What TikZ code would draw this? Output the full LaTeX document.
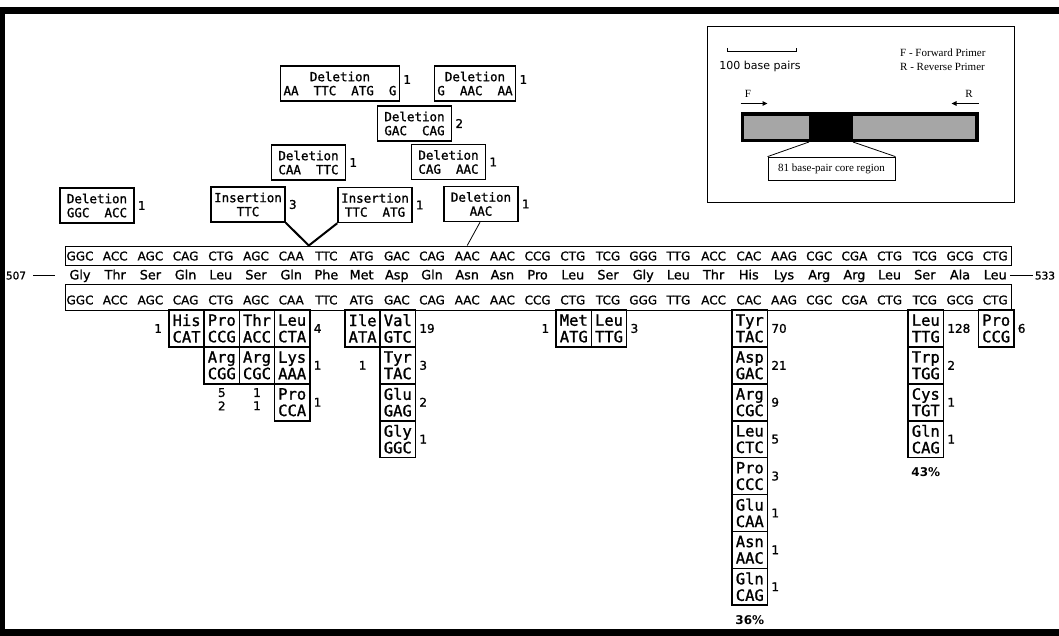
\documentclass[tikz,border=0pt]{standalone}
\usepackage{fontspec}
\setmainfont{DejaVu Sans}
\newfontfamily\seqfam[FakeBold=1.2]{DejaVu Sans}
\newfontfamily\monofam[FakeBold=1.2]{DejaVu Sans Mono}
\newfontfamily\insetserif{Liberation Serif}
\usetikzlibrary{positioning,arrows.meta,calc}

\begin{document}
\begin{tikzpicture}[
  x=1pt, y=-1pt,
  font=\seqfam\fontsize{12}{13}\selectfont,
  codon/.style={inner sep=0pt, text height=8.8pt, text depth=0pt},
  amino/.style={codon, font=\seqfam\fontsize{12.8}{14}\selectfont},
  seqbox/.style={draw=black, line width=0.9pt, inner sep=0pt, minimum width=946},
  mut/.style={draw=black, line width=1.6pt, minimum width=35.2, minimum height=36.9,
              inner sep=0pt, align=center, font=\monofam\fontsize{15.5}{16.5}\selectfont},
  indel/.style={draw=black, line width=1.5pt, inner xsep=3pt, inner ysep=2pt,
              minimum width=74, minimum height=35, align=center,
              font=\monofam\fontsize{12.5}{14}\selectfont},
  cnt/.style={inner sep=1pt, font=\seqfam\fontsize{12}{13}\selectfont},
  pct/.style={inner sep=1pt, font=\bfseries\fontsize{12}{13}\selectfont},
  legend/.style={inner sep=0pt, font=\insetserif\fontsize{11}{12}\selectfont},
  primer/.style={-{Triangle[length=5pt, width=4.5pt]}, line width=1.1pt}
]
\useasboundingbox (0,0) rectangle (1059,636);

% ---- frame ----
\fill[black] (0,7) rectangle (1059,14);
\fill[black] (0,7) rectangle (5,636);
\fill[black] (0,629) rectangle (1059,636);

% ---- sequence rows ----
\node[seqbox, minimum height=19] (topbox) at (538,255.5) {};
\node[seqbox, minimum height=26] (botbox) at (538,297) {};
\foreach \cod [count=\i from 0] in {GGC,ACC,AGC,CAG,CTG,AGC,CAA,TTC,ATG,GAC,CAG,AAC,AAC,
    CCG,CTG,TCG,GGG,TTG,ACC,CAC,AAG,CGC,CGA,CTG,TCG,GCG,CTG}{
  \node[codon] (ct\i) at ({80+35.2*\i},256) {\cod};
  \node[codon] (cb\i) at ({80+35.2*\i},300) {\cod};
}
\foreach \aa [count=\i from 0] in {Gly,Thr,Ser,Gln,Leu,Ser,Gln,Phe,Met,Asp,Gln,Asn,Asn,
    Pro,Leu,Ser,Gly,Leu,Thr,His,Lys,Arg,Arg,Leu,Ser,Ala,Leu}{
  \node[amino] (aa\i) at ({80+35.2*\i},275) {\aa};
}
\node[codon, font=\seqfam\fontsize{10.5}{12}\selectfont] (n507) at (16,275) {507};
\node[codon, font=\seqfam\fontsize{10.5}{12}\selectfont] (n533) at (1045,275) {533};
\draw[line width=0.9pt, shorten <=7pt, shorten >=14pt] (n507.east) -- (aa0.west);
\draw[line width=0.9pt, shorten <=3pt, shorten >=2pt] (aa26.east) -- (n533.west);

% ---- insertions and deletions ----
\node[indel] (delA) at (97,205.5)  {Deletion\\GGC\ \ ACC};
\node[indel] (insA) at (248,204.5) {Insertion\\TTC};
\node[indel] (insB) at (375,205)   {Insertion\\TTC\ \ ATG};
\node[indel] (delB) at (481,204)   {Deletion\\AAC};
\node[indel] (delC) at (308.5,162.5) {Deletion\\CAA\ \ TTC};
\node[indel] (delD) at (448.5,162) {Deletion\\CAG\ \ AAC};
\node[indel] (delE) at (414.5,123.5) {Deletion\\GAC\ \ CAG};
\node[indel] (delF) at (340,83.5)  {Deletion\\AA\ \ TTC\ \ ATG\ \ G};
\node[indel] (delG) at (475,83.5)  {Deletion\\G\ \ AAC\ \ AA};
\foreach \n/\v in {delA/1, insA/3, insB/1, delB/1, delC/1, delD/1, delE/2}{
  \node[cnt, right=2pt of \n] {\v};
}
\node[cnt, right=2pt of delF, yshift=4pt] {1};
\node[cnt, right=2pt of delG, yshift=4pt] {1};

\coordinate (vtip) at ($(ct6)!0.5!(ct7)$);
\draw[line width=2pt] (insA.south east) -- (vtip |- topbox.north) -- (insB.south west);
\draw[line width=0.8pt] ($(delB.south)+(-1,0)$) -- (ct11 |- topbox.north);

% ---- substitutions ----
\foreach \col/\k/\aa/\cod in {3/0/His/CAT, 4/0/Pro/CCG, 4/1/Arg/CGG, 5/0/Thr/ACC, 5/1/Arg/CGC,
    6/0/Leu/CTA, 6/1/Lys/AAA, 6/2/Pro/CCA, 8/0/Ile/ATA,
    9/0/Val/GTC, 9/1/Tyr/TAC, 9/2/Glu/GAG, 9/3/Gly/GGC,
    14/0/Met/ATG, 15/0/Leu/TTG,
    19/0/Tyr/TAC, 19/1/Asp/GAC, 19/2/Arg/CGC, 19/3/Leu/CTC, 19/4/Pro/CCC,
    19/5/Glu/CAA, 19/6/Asn/AAC, 19/7/Gln/CAG,
    24/0/Leu/TTG, 24/1/Trp/TGG, 24/2/Cys/TGT, 24/3/Gln/CAG, 26/0/Pro/CCG}{
  \node[mut] (m\col r\k) at ({81+35.2*\col},{328.45+36.9*\k}) {\aa\\\cod};
}

% counts
\node[cnt, left=5pt of m3r0] {1};
\node[cnt, left=5pt of m14r0] {1};
\foreach \n/\v in {m6r0/4, m6r1/1, m6r2/1, m9r0/19, m9r1/3, m9r2/2, m9r3/1, m15r0/3,
    m19r0/70, m19r1/21, m19r2/9, m19r3/5, m19r4/3, m19r5/1, m19r6/1, m19r7/1,
    m24r0/128, m24r1/2, m24r2/1, m24r3/1, m26r0/6}{
  \node[cnt, right=2pt of \n] {\v};
}
\node[cnt] (c4a) at ($(m4r1.south)+(0,8)$) {5};
\node[cnt, below=2pt of c4a] {2};
\node[cnt] (c5a) at ($(m5r1.south)+(0,8)$) {1};
\node[cnt, below=2pt of c5a] {1};
\node[cnt] at (m8r0 |- m9r1) {1};
\node[pct, below=8pt of m19r7] {36\%};
\node[pct, below=8pt of m24r3] {43\%};

% ---- inset ----
\node[draw=black, line width=1pt, minimum width=307, minimum height=176, inner sep=0pt]
  (inset) at (860.5,115) {};
\draw[line width=0.9pt] (727,48) -- (727,51) -- (796,51) -- (796,48);
\node[inner sep=0pt, font=\fontsize{11}{12}\selectfont] (bp) at (760,66) {100 base pairs};
\node[legend, anchor=west] (legF) at (900,53) {F - Forward Primer};
\node[legend, anchor=west] (legR) at (900,67) {R - Reverse Primer};
\node[draw=black, fill=black, line width=1pt, minimum width=237, minimum height=29,
      inner sep=0pt] (bar) at (859.5,127.5) {};
\fill[black!35] (744,116) rectangle (809,139);
\fill[black!35] (853,116) rectangle (975,139);
\node[legend] (labF) at (748,94) {F};
\node[legend] (labR) at (969,94) {R};
\draw[primer] ($(bar.north west)+(0,-9)$) -- ++(27,0);
\draw[primer] ($(bar.north east)+(0,-9)$) -- ++(-27,0);
\node[draw=black, line width=0.8pt, minimum width=127, minimum height=23, inner sep=0pt,
      font=\insetserif\fontsize{11}{12}\selectfont] (core) at (831.5,168.5)
  {81 base-pair core region};
\draw[line width=0.8pt] (809,142) -- (core.north west);
\draw[line width=0.8pt] (853,142) -- (core.north east);
\end{tikzpicture}
\end{document}
